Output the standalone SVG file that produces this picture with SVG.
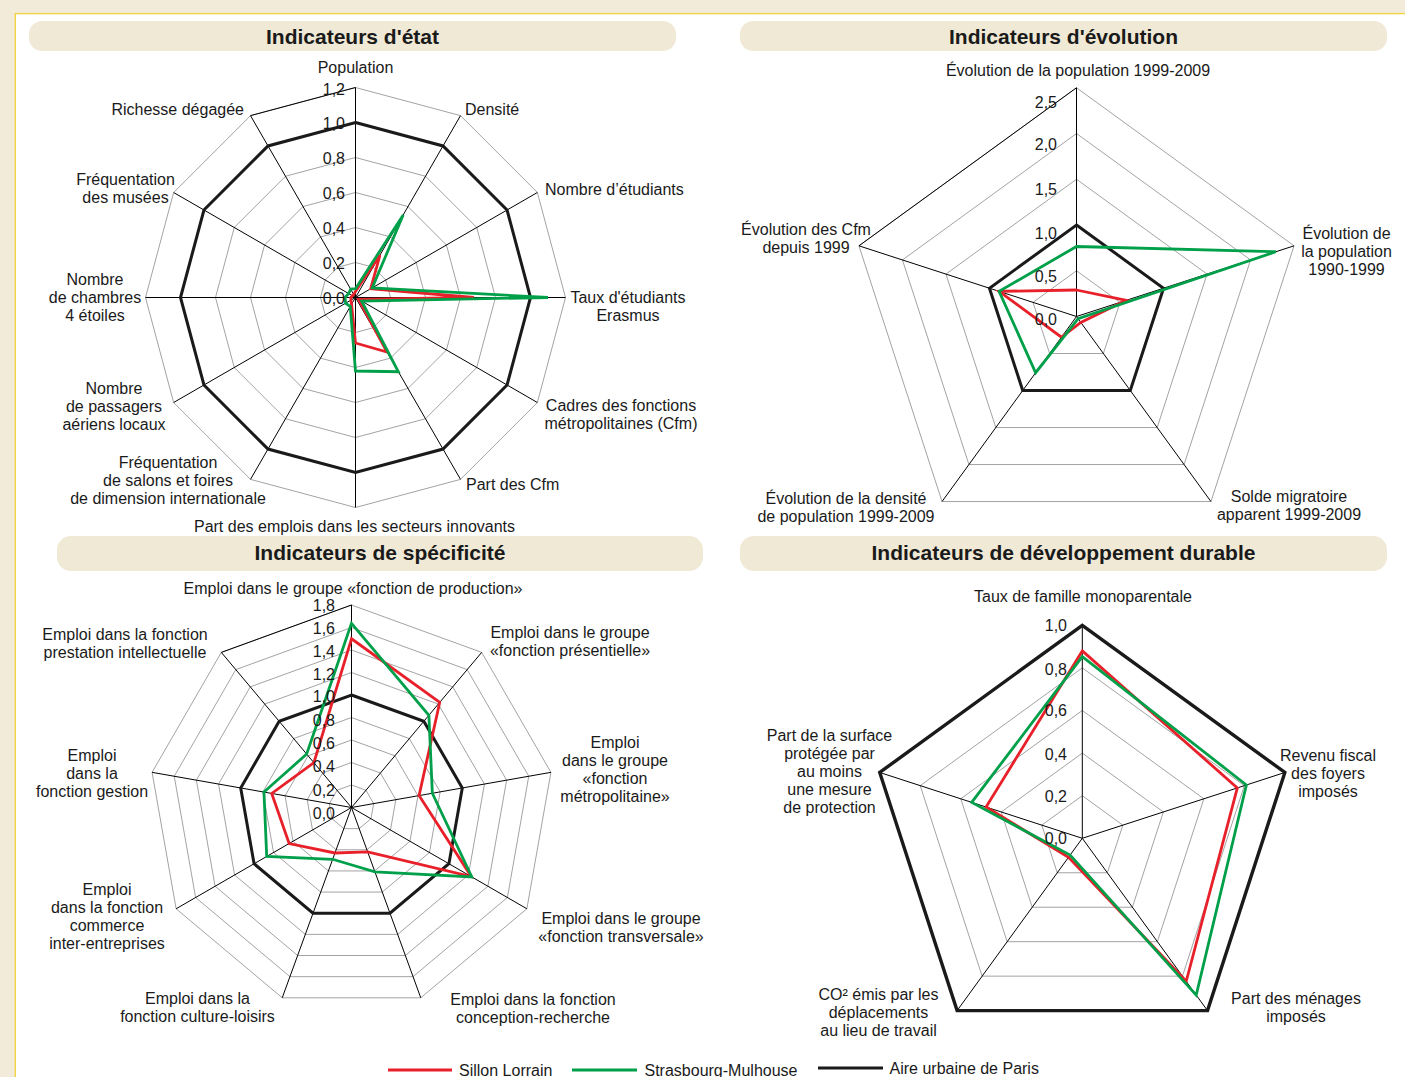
<svg xmlns="http://www.w3.org/2000/svg" width="1405" height="1077" viewBox="0 0 1405 1077">
<style>
text{font-family:"Liberation Sans",Arial,sans-serif;fill:#1a1a1a}
.lab{font-size:16px}
.m{text-anchor:middle}
.e{text-anchor:end}
.tick{font-size:16px;text-anchor:end}
.title{font-size:21px;font-weight:bold;text-anchor:middle}
.grid{fill:none;stroke:#a3a3a3;stroke-width:1}
.axis{fill:none;stroke:#000;stroke-width:1}
.paris{fill:none;stroke:#1a1a1a;stroke-width:3;stroke-linejoin:miter}
.sl{fill:none;stroke:#e8202a;stroke-width:2.8}
.sm{fill:none;stroke:#00a04a;stroke-width:2.8}
.bar{fill:#f0e9d6}
</style>
<g id="frame">
<rect x="0" y="0" width="1405" height="1077" fill="#f2ebd9"/>
<rect x="15.3" y="13.6" width="1400" height="1080" fill="#ffffff" stroke="#f1d445" stroke-width="1.4"/>
</g>
<g id="titles">
<rect class="bar" x="29" y="21" width="647" height="30" rx="13"/>
<rect class="bar" x="740" y="21" width="647" height="30" rx="13"/>
<rect class="bar" x="57" y="536" width="646" height="35" rx="14"/>
<rect class="bar" x="740" y="536" width="647" height="35" rx="14"/>
<text class="title" x="352.5" y="44">Indicateurs d'état</text>
<text class="title" x="1063.5" y="44">Indicateurs d'évolution</text>
<text class="title" x="380" y="559.5">Indicateurs de spécificité</text>
<text class="title" x="1063.5" y="559.5">Indicateurs de développement durable</text>
</g>

<g id="chart-etat">
<g transform="translate(355.5,297.5)">
<polygon class="grid" points="0,-35 17.5,-30.31 30.31,-17.5 35,0 30.31,17.5 17.5,30.31 0,35 -17.5,30.31 -30.31,17.5 -35,0 -30.31,-17.5 -17.5,-30.31"/>
<polygon class="grid" points="0,-70 35,-60.62 60.62,-35 70,0 60.62,35 35,60.62 0,70 -35,60.62 -60.62,35 -70,0 -60.62,-35 -35,-60.62"/>
<polygon class="grid" points="0,-105 52.5,-90.93 90.93,-52.5 105,0 90.93,52.5 52.5,90.93 0,105 -52.5,90.93 -90.93,52.5 -105,0 -90.93,-52.5 -52.5,-90.93"/>
<polygon class="grid" points="0,-140 70,-121.24 121.24,-70 140,0 121.24,70 70,121.24 0,140 -70,121.24 -121.24,70 -140,0 -121.24,-70 -70,-121.24"/>
<polygon class="grid" points="0,-175 87.5,-151.55 151.55,-87.5 175,0 151.55,87.5 87.5,151.55 0,175 -87.5,151.55 -151.55,87.5 -175,0 -151.55,-87.5 -87.5,-151.55"/>
<polygon class="grid" points="0,-210 105,-181.87 181.87,-105 210,0 181.87,105 105,181.87 0,210 -105,181.87 -181.87,105 -210,0 -181.87,-105 -105,-181.87"/>
<path class="axis" d="M0,-210L0,210M105,-181.87L-105,181.87M181.87,-105L-181.87,105M210,0L-210,0M181.87,105L-181.87,-105M105,181.87L-105,-181.87M-105,-181.87L0,-210"/>
<polygon class="paris" points="0,-175 87.5,-151.55 151.55,-87.5 175,0 151.55,87.5 87.5,151.55 0,175 -87.5,151.55 -151.55,87.5 -175,0 -151.55,-87.5 -87.5,-151.55"/>
<polygon class="sl" points="0,-6.1 24.5,-42.44 15.16,-8.75 118.5,0 3.03,1.75 31.5,54.56 0,45.5 -3.94,6.82 -4.55,2.63 -4.7,0 -3.03,-1.75 -1.75,-3.03"/>
<polygon class="sm" points="0,-8.75 47.7,-82.6 16.67,-9.63 192.5,0 6.06,3.5 42.88,74.26 0,73.5 -5.25,9.09 -9.85,5.69 -10.5,0 -6.82,-3.94 -4.8,-8.33"/>
</g>
<text class="tick" x="345" y="94.5">1,2</text>
<text class="tick" x="345" y="128.5">1,0</text>
<text class="tick" x="345" y="164">0,8</text>
<text class="tick" x="345" y="199">0,6</text>
<text class="tick" x="345" y="233.5">0,4</text>
<text class="tick" x="345" y="268.5">0,2</text>
<text class="tick" x="345" y="303.5">0,0</text>
<text class="lab m" x="355.5" y="72.5">Population</text>
<text class="lab" x="465" y="114.5">Densité</text>
<text class="lab" x="545" y="194.5">Nombre d’étudiants</text>
<text class="lab m" x="628" y="302.5">Taux d'étudiants<tspan x="628" dy="18">Erasmus</tspan></text>
<text class="lab m" x="621" y="410.5">Cadres des fonctions<tspan x="621" dy="18">métropolitaines (Cfm)</tspan></text>
<text class="lab" x="466" y="489.5">Part des Cfm</text>
<text class="lab m" x="354.5" y="531.5">Part des emplois dans les secteurs innovants</text>
<text class="lab m" x="168" y="467.5">Fréquentation<tspan x="168" dy="18">de salons et foires</tspan><tspan x="168" dy="18">de dimension internationale</tspan></text>
<text class="lab m" x="114" y="393.5">Nombre<tspan x="114" dy="18">de passagers</tspan><tspan x="114" dy="18">aériens locaux</tspan></text>
<text class="lab m" x="95" y="284.5">Nombre<tspan x="95" dy="18">de chambres</tspan><tspan x="95" dy="18">4 étoiles</tspan></text>
<text class="lab m" x="125.5" y="184.5">Fréquentation<tspan x="125.5" dy="18">des musées</tspan></text>
<text class="lab e" x="244" y="114.5">Richesse dégagée</text>
</g>

<g id="chart-evolution">
<g transform="translate(1076.5,316.5)">
<polygon class="grid" points="0,-45.75 43.51,-14.14 26.89,37.01 -26.89,37.01 -43.51,-14.14"/>
<polygon class="grid" points="0,-137.25 130.54,-42.41 80.68,111.04 -80.68,111.04 -130.54,-42.41"/>
<polygon class="grid" points="0,-183 174.05,-56.55 107.57,148.05 -107.57,148.05 -174.05,-56.55"/>
<polygon class="grid" points="0,-228.75 217.56,-70.68 134.46,185.06 -134.46,185.06 -217.56,-70.68"/>
<path class="axis" d="M0,0L0,-228.75M0,0L217.56,-70.68M0,0L134.46,185.06M0,0L-134.46,185.06M0,0L-217.56,-70.68M-217.56,-70.68L0,-228.75"/>
<polygon class="paris" points="0,-91.5 87.03,-28.27 53.78,74.02 -53.78,74.02 -87.03,-28.27"/>
<polygon class="sl" points="0,-26.5 49.65,-16.13 4.29,5.91 -15.05,20.71 -77.42,-25.15"/>
<polygon class="sm" points="0,-70 199.26,-64.74 1.62,2.22 -40.85,56.23 -77.42,-25.15"/>
</g>
<text class="tick" x="1057" y="107.5">2,5</text>
<text class="tick" x="1057" y="149.5">2,0</text>
<text class="tick" x="1057" y="194.5">1,5</text>
<text class="tick" x="1057" y="238.5">1,0</text>
<text class="tick" x="1057" y="281.5">0,5</text>
<text class="tick" x="1057" y="324.5">0,0</text>
<text class="lab m" x="1078" y="75.5">Évolution de la population 1999-2009</text>
<text class="lab m" x="1346.5" y="238.5">Évolution de<tspan x="1346.5" dy="18">la population</tspan><tspan x="1346.5" dy="18">1990-1999</tspan></text>
<text class="lab m" x="1289" y="501.5">Solde migratoire<tspan x="1289" dy="18">apparent 1999-2009</tspan></text>
<text class="lab m" x="846" y="503.5">Évolution de la densité<tspan x="846" dy="18">de population 1999-2009</tspan></text>
<text class="lab m" x="806" y="234.5">Évolution des Cfm<tspan x="806" dy="18">depuis 1999</tspan></text>
</g>

<g id="chart-specificite">
<g transform="translate(351.5,807.5)">
<polygon class="grid" points="0,-22.5 14.46,-17.24 22.16,-3.91 19.49,11.25 7.7,21.14 -7.7,21.14 -19.49,11.25 -22.16,-3.91 -14.46,-17.24"/>
<polygon class="grid" points="0,-45 28.93,-34.47 44.32,-7.81 38.97,22.5 15.39,42.29 -15.39,42.29 -38.97,22.5 -44.32,-7.81 -28.93,-34.47"/>
<polygon class="grid" points="0,-67.5 43.39,-51.71 66.47,-11.72 58.46,33.75 23.09,63.43 -23.09,63.43 -58.46,33.75 -66.47,-11.72 -43.39,-51.71"/>
<polygon class="grid" points="0,-90 57.85,-68.94 88.63,-15.62 77.94,45 30.78,84.57 -30.78,84.57 -77.94,45 -88.63,-15.62 -57.85,-68.94"/>
<polygon class="grid" points="0,-135 86.78,-103.41 132.95,-23.44 116.91,67.5 46.17,126.86 -46.17,126.86 -116.91,67.5 -132.95,-23.44 -86.78,-103.41"/>
<polygon class="grid" points="0,-157.5 101.24,-120.65 155.11,-27.34 136.4,78.75 53.87,148 -53.87,148 -136.4,78.75 -155.11,-27.34 -101.24,-120.65"/>
<polygon class="grid" points="0,-180 115.7,-137.88 177.26,-31.25 155.88,90 61.56,169.15 -61.56,169.15 -155.88,90 -177.26,-31.25 -115.7,-137.88"/>
<polygon class="grid" points="0,-202.5 130.17,-155.12 199.42,-35.15 175.37,101.25 69.26,190.29 -69.26,190.29 -175.37,101.25 -199.42,-35.15 -130.17,-155.12"/>
<path class="axis" d="M0,0L0,-202.5M0,0L130.17,-155.12M0,0L199.42,-35.15M0,0L175.37,101.25M0,0L69.26,190.29M0,0L-69.26,190.29M0,0L-175.37,101.25M0,0L-199.42,-35.15M0,0L-130.17,-155.12M-130.17,-155.12L0,-202.5"/>
<polygon class="paris" points="0,-112.5 72.32,-86.18 110.79,-19.53 97.43,56.25 38.48,105.72 -38.48,105.72 -97.43,56.25 -110.79,-19.53 -72.32,-86.18"/>
<polygon class="sl" points="0,-168.75 88.22,-105.13 67.56,-11.91 119.85,69.2 16.16,44.4 -16.55,45.48 -62.35,36 -79.77,-14.06 -37.6,-44.81"/>
<polygon class="sm" points="0,-184.2 77.39,-92.23 80.85,-14.25 120.29,69.45 23.46,64.46 -18.84,51.78 -84.78,48.95 -87.55,-15.43 -44.83,-53.43"/>
</g>
<text class="tick" x="335" y="610.5">1,8</text>
<text class="tick" x="335" y="633.5">1,6</text>
<text class="tick" x="335" y="657">1,4</text>
<text class="tick" x="335" y="679.5">1,2</text>
<text class="tick" x="335" y="702">1,0</text>
<text class="tick" x="335" y="725.5">0,8</text>
<text class="tick" x="335" y="748.5">0,6</text>
<text class="tick" x="335" y="771.5">0,4</text>
<text class="tick" x="335" y="795.5">0,2</text>
<text class="tick" x="335" y="818.5">0,0</text>
<text class="lab m" x="353" y="593.5">Emploi dans le groupe «fonction de production»</text>
<text class="lab m" x="570" y="637.5">Emploi dans le groupe<tspan x="570" dy="18">«fonction présentielle»</tspan></text>
<text class="lab m" x="615" y="747.5">Emploi<tspan x="615" dy="18">dans le groupe</tspan><tspan x="615" dy="18">«fonction</tspan><tspan x="615" dy="18">métropolitaine»</tspan></text>
<text class="lab m" x="621" y="923.5">Emploi dans le groupe<tspan x="621" dy="18">«fonction transversale»</tspan></text>
<text class="lab m" x="533" y="1004.5">Emploi dans la fonction<tspan x="533" dy="18">conception-recherche</tspan></text>
<text class="lab m" x="197.5" y="1003.5">Emploi dans la<tspan x="197.5" dy="18">fonction culture-loisirs</tspan></text>
<text class="lab m" x="107" y="894.5">Emploi<tspan x="107" dy="18">dans la fonction</tspan><tspan x="107" dy="18">commerce</tspan><tspan x="107" dy="18">inter-entreprises</tspan></text>
<text class="lab m" x="92" y="760.5">Emploi<tspan x="92" dy="18">dans la</tspan><tspan x="92" dy="18">fonction gestion</tspan></text>
<text class="lab m" x="125" y="639.5">Emploi dans la fonction<tspan x="125" dy="18">prestation intellectuelle</tspan></text>
</g>

<g id="chart-durable">
<g transform="translate(1082.3,838.3)">
<polygon class="grid" points="0,-42.6 40.52,-13.16 25.04,34.46 -25.04,34.46 -40.52,-13.16"/>
<polygon class="grid" points="0,-85.2 81.03,-26.33 50.08,68.93 -50.08,68.93 -81.03,-26.33"/>
<polygon class="grid" points="0,-127.8 121.55,-39.49 75.12,103.39 -75.12,103.39 -121.55,-39.49"/>
<polygon class="grid" points="0,-170.4 162.07,-52.65 100.16,137.85 -100.16,137.85 -162.07,-52.65"/>
<path class="axis" d="M0,0L0,-213M0,0L202.58,-65.82M0,0L125.2,172.32M0,0L-125.2,172.32M0,0L-202.58,-65.82"/>
<polygon class="paris" style="stroke-width:3.4" points="0,-213 202.58,-65.82 125.2,172.32 -125.2,172.32 -202.58,-65.82"/>
<polygon class="sl" points="0,-187.4 155.03,-50.37 103.92,143.03 -13.75,18.93 -96.25,-31.27"/>
<polygon class="sm" points="0,-181.7 164.07,-53.3 113.92,156.78 -12.17,16.75 -110.61,-35.94"/>
</g>
<text class="tick" x="1067" y="630.5">1,0</text>
<text class="tick" x="1067" y="674.5">0,8</text>
<text class="tick" x="1067" y="715.5">0,6</text>
<text class="tick" x="1067" y="759.5">0,4</text>
<text class="tick" x="1067" y="801.5">0,2</text>
<text class="tick" x="1067" y="843.5">0,0</text>
<text class="lab m" x="1083" y="601.5">Taux de famille monoparentale</text>
<text class="lab m" x="1328" y="760.5">Revenu fiscal<tspan x="1328" dy="18">des foyers</tspan><tspan x="1328" dy="18">imposés</tspan></text>
<text class="lab m" x="1296" y="1003.5">Part des ménages<tspan x="1296" dy="18">imposés</tspan></text>
<text class="lab m" x="878.5" y="999.5">CO² émis par les<tspan x="878.5" dy="18">déplacements</tspan><tspan x="878.5" dy="18">au lieu de travail</tspan></text>
<text class="lab m" x="829.5" y="740.5">Part de la surface<tspan x="829.5" dy="18.2">protégée par</tspan><tspan x="829.5" dy="18.2">au moins</tspan><tspan x="829.5" dy="18.2">une mesure</tspan><tspan x="829.5" dy="18.2">de protection</tspan></text>
</g>

<g id="legend">
<line x1="388" y1="1070" x2="452" y2="1070" stroke="#e8202a" stroke-width="2.8"/>
<text class="lab" x="459" y="1075.5">Sillon Lorrain</text>
<line x1="572" y1="1070" x2="637" y2="1070" stroke="#00a04a" stroke-width="2.8"/>
<text class="lab" x="644.5" y="1075.5">Strasbourg-Mulhouse</text>
<line x1="818" y1="1068" x2="883" y2="1068" stroke="#1a1a1a" stroke-width="3"/>
<text class="lab" x="889.5" y="1073.5">Aire urbaine de Paris</text>
</g>
</svg>
